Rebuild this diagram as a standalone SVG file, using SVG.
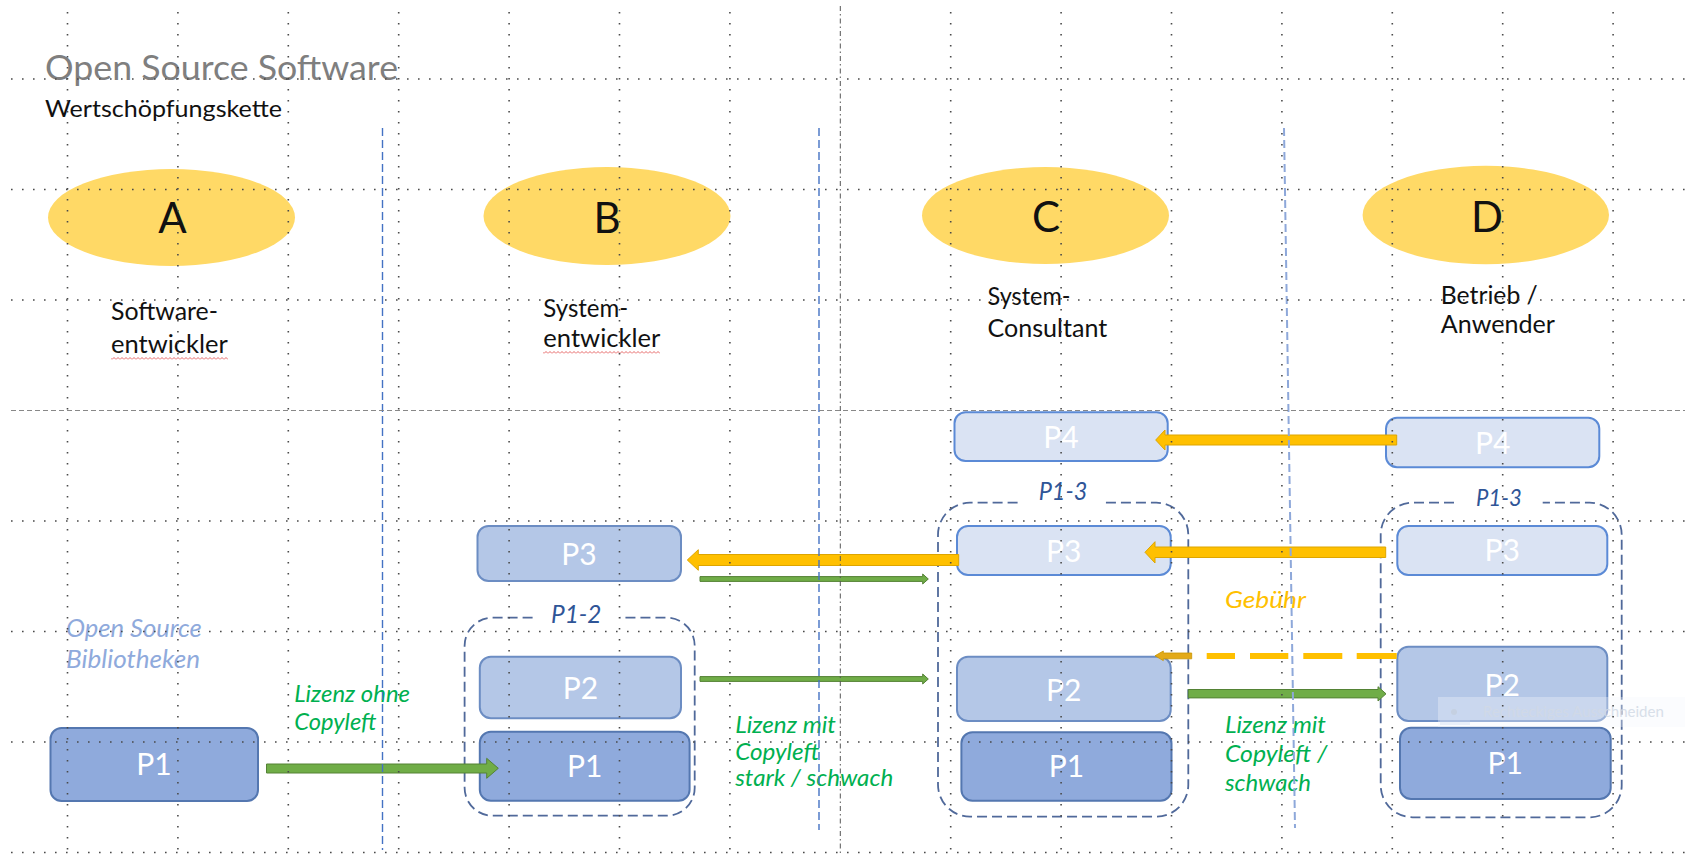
<svg xmlns="http://www.w3.org/2000/svg" width="1685" height="854" viewBox="0 0 1685 854">
<defs>
<style>
.t{font-family:Lato,"Liberation Sans",Arial,sans-serif;}
.title{font-size:35px;fill:#7F7F7F;}
.sub{font-size:24px;fill:#111;}
.letter{font-size:42px;fill:#111;text-anchor:middle;}
.role{font-size:24.5px;fill:#111;}
.box{font-size:30px;fill:#FFFFFF;text-anchor:middle;}
.it{font-style:italic;}
.lib{font-size:24.5px;fill:#8FAADC;}
.lic{font-size:23px;fill:#00B050;}
.fee{font-size:24px;fill:#FFC000;}
.grp{font-size:25px;fill:#2F5597;font-style:italic;}
.ell{fill:#FFD966;}
.p1{fill:#8FAADC;stroke:#5477B0;stroke-width:2;}
.p2{fill:#B4C7E7;stroke:#6C8DC3;stroke-width:2;}
.p4{fill:#DAE3F3;stroke:#5B8AD6;stroke-width:2;}
.gd{fill:none;stroke:#50699A;stroke-width:1.8;stroke-dasharray:10 5;}
.ga{fill:#70AD47;stroke:#548235;stroke-width:1;}
.ya{fill:#FFC000;stroke:#DDA500;stroke-width:1;}
.grid{fill:none;stroke:#4a4a4a;stroke-width:1.6;stroke-dasharray:1.6 9.4;}
.sep{fill:none;stroke:#4472C4;stroke-width:1.4;stroke-dasharray:8 4;}
</style>
<pattern id="squig" width="4" height="3" patternUnits="userSpaceOnUse">
<path d="M0 2.5 L2 0.5 L4 2.5" fill="none" stroke="#E04040" stroke-width="0.8"/>
</pattern>
</defs>
<rect width="1685" height="854" fill="#FFFFFF"/>

<g id="title">
<text class="t title" x="45" y="80" textLength="353" lengthAdjust="spacingAndGlyphs">Open Source Software</text>
<text class="t sub" x="45" y="116.7" textLength="237" lengthAdjust="spacingAndGlyphs">Wertschöpfungskette</text>
</g>

<g id="role-A">
<ellipse class="ell" cx="171.5" cy="217.5" rx="123.5" ry="48.5"/>
<text class="t letter" x="172.5" y="233">A</text>
<text class="t role" x="111" y="320" textLength="107" lengthAdjust="spacingAndGlyphs">Software-</text>
<text class="t role" x="111" y="352.7" textLength="116.7" lengthAdjust="spacingAndGlyphs">entwickler</text>
<rect x="111" y="357" width="117" height="3" fill="url(#squig)"/>
</g>
<g id="role-B">
<ellipse class="ell" cx="607" cy="216" rx="123.5" ry="49"/>
<text class="t letter" x="607" y="233">B</text>
<text class="t role" x="543.3" y="316.7" textLength="85" lengthAdjust="spacingAndGlyphs">System-</text>
<text class="t role" x="543.3" y="346.7" textLength="117" lengthAdjust="spacingAndGlyphs">entwickler</text>
<rect x="543" y="351" width="117" height="3" fill="url(#squig)"/>
</g>
<g id="role-C">
<ellipse class="ell" cx="1045.5" cy="215.5" rx="123.5" ry="48.5"/>
<text class="t letter" x="1046" y="232">C</text>
<text class="t role" x="987.5" y="305" textLength="83" lengthAdjust="spacingAndGlyphs">System-</text>
<text class="t role" x="987.5" y="336.7" textLength="119.7" lengthAdjust="spacingAndGlyphs">Consultant</text>
</g>
<g id="role-D">
<ellipse class="ell" cx="1485.8" cy="215" rx="123.2" ry="49.3"/>
<text class="t letter" x="1487" y="232">D</text>
<text class="t role" x="1440.8" y="304" textLength="97" lengthAdjust="spacingAndGlyphs">Betrieb /</text>
<text class="t role" x="1440.8" y="333.3" textLength="114" lengthAdjust="spacingAndGlyphs">Anwender</text>
</g>

<g id="lib-label">
<text class="t it lib" x="66" y="637.3" textLength="135.7" lengthAdjust="spacingAndGlyphs">Open Source</text>
<text class="t it lib" x="66" y="668.3" textLength="134" lengthAdjust="spacingAndGlyphs">Bibliotheken</text>
</g>

<g id="A-P1">
<rect class="p1" x="50.5" y="728" width="207.5" height="73" rx="11"/>
<text class="t box" x="154" y="775">P1</text>
</g>

<g id="B-group">
<path class="gd" d="M532.6 617.7 H492.6 A28 28 0 0 0 464.6 645.7 V787.7 A28 28 0 0 0 492.6 815.7 H666.7 A28 28 0 0 0 694.7 787.7 V645.7 A28 28 0 0 0 666.7 617.7 H620"/>
<text class="t grp" x="551" y="623.3" textLength="50.5" lengthAdjust="spacingAndGlyphs">P1-2</text>
</g>
<g id="B-P3">
<rect class="p2" x="477.5" y="526" width="203.5" height="55" rx="11"/>
<text class="t box" x="579" y="565">P3</text>
</g>
<g id="B-P2">
<rect class="p2" x="479.8" y="656.7" width="201.2" height="61.6" rx="11"/>
<text class="t box" x="580.4" y="699.3">P2</text>
</g>
<g id="B-P1">
<rect class="p1" x="479.8" y="731.7" width="209.8" height="69" rx="11"/>
<text class="t box" x="584.7" y="776.7">P1</text>
</g>

<g id="C-P4">
<rect class="p4" x="954.5" y="412.3" width="213.2" height="48.7" rx="11"/>
<text class="t box" x="1061" y="447.7">P4</text>
</g>
<g id="C-group">
<path class="gd" d="M1017.6 502.7 H970 A32 32 0 0 0 938 534.7 V784.7 A32 32 0 0 0 970 816.7 H1156.3 A32 32 0 0 0 1188.3 784.7 V534.7 A32 32 0 0 0 1156.3 502.7 H1105.7"/>
<text class="t grp" x="1038.7" y="500" textLength="48.6" lengthAdjust="spacingAndGlyphs">P1-3</text>
</g>
<g id="C-P3">
<rect class="p4" x="957" y="526" width="213.7" height="49" rx="11"/>
<text class="t box" x="1063.8" y="561.7">P3</text>
</g>
<g id="C-P2">
<rect class="p2" x="957" y="656.7" width="213.7" height="64.3" rx="11"/>
<text class="t box" x="1063.8" y="700.7">P2</text>
</g>
<g id="C-P1">
<rect class="p1" x="961.4" y="732.3" width="210.1" height="68.4" rx="11"/>
<text class="t box" x="1066.5" y="776.7">P1</text>
</g>

<g id="D-P4">
<rect class="p4" x="1386" y="417.7" width="213.3" height="49.6" rx="11"/>
<text class="t box" x="1492.7" y="454">P4</text>
</g>
<g id="D-group">
<path class="gd" d="M1454 502.7 H1412.7 A32 32 0 0 0 1380.7 534.7 V785.3 A32 32 0 0 0 1412.7 817.3 H1589.7 A32 32 0 0 0 1621.7 785.3 V534.7 A32 32 0 0 0 1589.7 502.7 H1542.7"/>
<text class="t grp" x="1476" y="506" textLength="45.7" lengthAdjust="spacingAndGlyphs" style="font-size:23px">P1-3</text>
</g>
<g id="D-P3">
<rect class="p4" x="1397.3" y="526" width="210" height="49" rx="11"/>
<text class="t box" x="1502.3" y="561">P3</text>
</g>
<g id="D-P2">
<rect class="p2" x="1397.3" y="646.7" width="210" height="74.3" rx="11"/>
<text class="t box" x="1502.3" y="696">P2</text>
</g>
<g id="D-P1">
<rect class="p1" x="1400" y="727.7" width="210.7" height="71.3" rx="11"/>
<text class="t box" x="1505.3" y="774.3">P1</text>
</g>

<g id="connectors">
<polygon class="ga" points="266.5,764 486.7,764 486.7,758.3 498.3,768.3 486.7,778.3 486.7,773 266.5,773"/>
<polygon class="ya" points="958.7,554.5 698.3,554.5 698.3,549.7 687.3,560 698.3,570.3 698.3,565.5 958.7,565.5"/>
<polygon class="ga" points="700,576.6 922.7,576.6 922.7,574 928.3,579 922.7,584 922.7,581.4 700,581.4"/>
<polygon class="ga" points="700,676.6 922.7,676.6 922.7,674 928.3,679 922.7,684 922.7,681.4 700,681.4"/>
<polygon class="ya" points="1396.7,435 1165,435 1165,430 1155.7,440 1165,450 1165,445 1396.7,445"/>
<polygon class="ya" points="1385.7,547 1155,547 1155,541.7 1145,552.3 1155,563 1155,557.5 1385.7,557.5"/>
<polygon points="1191.7,653 1163.3,653 1163.3,651 1155,655.8 1163.3,660.6 1163.3,658.8 1191.7,658.8" fill="#E3AA18" stroke="#C89400" stroke-width="0.8"/>
<g fill="#FFC000">
<rect x="1206.7" y="653" width="28.3" height="6"/>
<rect x="1250" y="653" width="38.3" height="6"/>
<rect x="1303.3" y="653" width="39" height="6"/>
<rect x="1356.7" y="653" width="40" height="6"/>
</g>
<polygon class="ga" points="1188.3,689.5 1378,689.5 1378,686.7 1386,693.8 1378,701 1378,697.9 1188.3,697.9"/>
</g>

<g id="connector-labels">
<text class="t it lic" x="294.3" y="701.7" textLength="115.7" lengthAdjust="spacingAndGlyphs">Lizenz ohne</text>
<text class="t it lic" x="294.3" y="730" textLength="82.3" lengthAdjust="spacingAndGlyphs">Copyleft</text>
<text class="t it lic" x="735.2" y="733.3" textLength="100.7" lengthAdjust="spacingAndGlyphs">Lizenz mit</text>
<text class="t it lic" x="735.2" y="760.3" textLength="84.2" lengthAdjust="spacingAndGlyphs">Copyleft</text>
<text class="t it lic" x="735.2" y="785.5" textLength="158" lengthAdjust="spacingAndGlyphs">stark / schwach</text>
<text class="t it fee" x="1225" y="607.7" textLength="81" lengthAdjust="spacingAndGlyphs">Gebühr</text>
<text class="t it lic" x="1225" y="733.3" textLength="101" lengthAdjust="spacingAndGlyphs">Lizenz mit</text>
<text class="t it lic" x="1225" y="762" textLength="102.3" lengthAdjust="spacingAndGlyphs">Copyleft /</text>
<text class="t it lic" x="1225" y="790.5" textLength="86" lengthAdjust="spacingAndGlyphs">schwach</text>
</g>

<g id="separators">
<path class="sep" d="M382.5 128 V850"/>
<path class="sep" d="M819 128 V830"/>
<path class="sep" d="M1284 128 L1295 828" style="stroke:#8EA8DA;stroke-width:2"/>
</g>

<g id="tooltip">
<rect x="1438" y="697" width="247" height="30" fill="#F4F7FC" opacity="0.35"/>
<rect x="1440" y="699" width="30" height="26" fill="#C8D8F0" opacity="0.35"/>
<circle cx="1454" cy="712" r="3" fill="#C4CEDD" opacity="0.8"/>
<text class="t" x="1483" y="717" font-size="15" fill="#D2DAE6" opacity="0.85">Rechteckiges Ausschneiden</text>
</g>

<g id="guides">
<path class="grid" d="M67.5 12 V854 M177.9 12 V854 M288.3 12 V854 M398.7 12 V854 M509.1 12 V854 M619.5 12 V854 M729.9 12 V854 M950.7 12 V854 M1061.1 12 V854 M1171.5 12 V854 M1281.9 12 V854 M1392.3 12 V854 M1502.7 12 V854 M1613.1 12 V854"/>
<path class="grid" d="M11 79 H1685 M11 189.5 H1685 M11 300 H1685 M11 521 H1685 M11 631.5 H1685 M11 742 H1685 M11 852.5 H1685"/>
<path d="M840.3 6 V854" fill="none" stroke="#555" stroke-width="1" stroke-dasharray="5 3 1.5 3"/>
<path d="M11 410.5 H1685" fill="none" stroke="#888" stroke-width="1" stroke-dasharray="5 3"/>
</g>
</svg>
